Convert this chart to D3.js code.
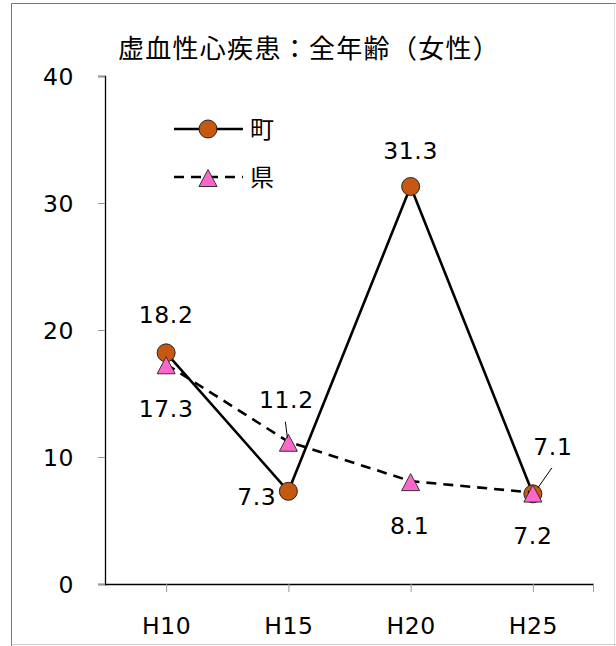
<!DOCTYPE html>
<html>
<head>
<meta charset="utf-8">
<script src="https://cdn.jsdelivr.net/npm/d3@7"></script>
<style>
  body { margin: 0; background: #fff; }
  svg { display: block; }
  text { font-family: 'DejaVu Sans', Verdana, sans-serif; fill: #000; }
  .cjk { font-family: 'Noto Sans CJK JP', 'Noto Sans', sans-serif; }
</style>
</head>
<body>
<div class="container"></div>
<script>
let width = 616
let height = 646
let margin = { left: 105, right: 22, top: 76, bottom: 62 }

const title = '虚血性心疾患：全年齢（女性）'
const categories = ['H10', 'H15', 'H20', 'H25']
const townValues = [18.2, 7.3, 31.3, 7.1]
const prefValues = [17.3, 11.2, 8.1, 7.2]
const yTicks = [0, 10, 20, 30, 40]
const seriesNames = ['町', '県']

// label offsets from the marker (dx, dy, anchor) - placement only
const townLabelPos = [[0, -38, 'middle'], [-12, 5, 'end'], [0, -36, 'middle'], [20, -47, 'middle']]
const prefLabelPos = [[0, 44, 'middle'], [-2, -42, 'middle'], [-1, 44, 'middle'], [0, 43, 'middle']]

let numFont = { size: '23.5px', spacing: '0.6px' }

let svg = d3.select('.container')
  .append('svg')
  .attr('width', width)
  .attr('height', height)

// frame
svg.append('line').attr('x1', 11.5).attr('x2', 616).attr('y1', 3.5).attr('y2', 3.5).attr('stroke', '#777')
svg.append('line').attr('x1', 11.5).attr('x2', 11.5).attr('y1', 3.5).attr('y2', 646).attr('stroke', '#777')
svg.append('line').attr('x1', 614.5).attr('x2', 614.5).attr('y1', 3.5).attr('y2', 646).attr('stroke', '#ddd')
svg.append('line').attr('x1', 11.5).attr('x2', 616).attr('y1', 644.5).attr('y2', 644.5).attr('stroke', '#ccc')

let x = d3.scalePoint()
  .domain(categories)
  .range([margin.left, width - margin.right])
  .padding(0.5)

let y = d3.scaleLinear()
  .domain([0, 40])
  .range([height - margin.bottom, margin.top])

// title
svg.append('text')
  .attr('class', 'cjk')
  .attr('x', 309)
  .attr('y', 58)
  .attr('text-anchor', 'middle')
  .style('font-size', '26px')
  .style('letter-spacing', '1.3px')
  .text(title)

function numStyle(sel) {
  sel.style('font-size', numFont.size)
    .style('letter-spacing', numFont.spacing)
    .style('font-family', "'DejaVu Sans', sans-serif")
    .attr('fill', '#000')
}

// y axis
let yAxis = svg.append('g')
  .attr('transform', `translate(${margin.left},0)`)
  .call(d3.axisLeft(y).tickValues(yTicks).tickSize(7).tickPadding(24))
yAxis.select('.domain').attr('stroke', '#000').attr('stroke-width', 1.3)
yAxis.selectAll('.tick line').attr('stroke', '#999')
yAxis.selectAll('.tick text').call(numStyle).attr('dy', '0.36em')

// x axis
let x0 = margin.left, x1 = width - margin.right
let xAxis = svg.append('g')
  .attr('transform', `translate(0,${height - margin.bottom})`)
  .call(d3.axisBottom(x).tickSizeOuter(0).tickSize(8).tickPadding(25))
xAxis.select('.domain').attr('d', `M${x0},0.5H${x1}`).attr('stroke', '#000').attr('stroke-width', 1.3)
xAxis.selectAll('.tick line').attr('stroke', '#999')
xAxis.selectAll('.tick text').call(numStyle)
xAxis.append('line').attr('x1', x1 - 0.5).attr('x2', x1 - 0.5).attr('y1', 0).attr('y2', 8).attr('stroke', '#999')

let line = d3.line()
  .x((d, i) => x(categories[i]))
  .y(d => y(d))

let triangle = 'M0,-8.5L9,8.5L-9,8.5Z'

// town series
svg.append('path')
  .datum(townValues)
  .attr('d', line)
  .attr('fill', 'none')
  .attr('stroke', '#000')
  .attr('stroke-width', 2.6)

svg.append('g')
  .selectAll('circle')
  .data(townValues)
  .enter()
  .append('circle')
  .attr('cx', (d, i) => x(categories[i]))
  .attr('cy', d => y(d))
  .attr('r', 9)
  .attr('fill', '#C65911')
  .attr('stroke', '#222')
  .attr('stroke-width', 1)

// prefecture series
svg.append('path')
  .datum(prefValues)
  .attr('d', line)
  .attr('fill', 'none')
  .attr('stroke', '#000')
  .attr('stroke-width', 2.6)
  .attr('stroke-dasharray', '10,7')

svg.append('g')
  .selectAll('path')
  .data(prefValues)
  .enter()
  .append('path')
  .attr('d', triangle)
  .attr('transform', (d, i) => `translate(${x(categories[i])},${y(d) + 1})`)
  .attr('fill', '#FF66CC')
  .attr('stroke', '#333')
  .attr('stroke-width', 1)

// data labels
function labels(values, pos) {
  svg.append('g')
    .selectAll('text')
    .data(values)
    .enter()
    .append('text')
    .attr('x', (d, i) => x(categories[i]) + pos[i][0])
    .attr('y', (d, i) => y(d) + pos[i][1])
    .attr('dy', '0.36em')
    .attr('text-anchor', (d, i) => pos[i][2])
    .call(numStyle)
    .text(d => d.toFixed(1))
}
labels(townValues, townLabelPos)
labels(prefValues, prefLabelPos)

// leader lines
svg.append('line')
  .attr('x1', x('H15') - 3).attr('y1', y(prefValues[1]) - 20)
  .attr('x2', x('H15') - 1).attr('y2', y(prefValues[1]) - 4)
  .attr('stroke', '#000').attr('stroke-width', 1)
svg.append('line')
  .attr('x1', x('H25') + 19).attr('y1', y(townValues[3]) - 26)
  .attr('x2', x('H25') + 5).attr('y2', y(townValues[3]) - 6)
  .attr('stroke', '#000').attr('stroke-width', 1)

// legend
let legend = svg.append('g')
legend.append('line').attr('x1', 174).attr('x2', 243).attr('y1', 129).attr('y2', 129)
  .attr('stroke', '#000').attr('stroke-width', 2.6)
legend.append('circle').attr('cx', 208).attr('cy', 129).attr('r', 9)
  .attr('fill', '#C65911').attr('stroke', '#222')
legend.append('line').attr('x1', 174).attr('x2', 243).attr('y1', 177).attr('y2', 177)
  .attr('stroke', '#000').attr('stroke-width', 2.6).attr('stroke-dasharray', '10,7')
legend.append('path').attr('d', triangle).attr('transform', 'translate(208,178)')
  .attr('fill', '#FF66CC').attr('stroke', '#333')
legend.selectAll('text')
  .data(seriesNames)
  .enter()
  .append('text')
  .attr('class', 'cjk')
  .attr('x', 250)
  .attr('y', (d, i) => 129 + i * 48)
  .attr('dy', '0.36em')
  .style('font-size', '24px')
  .text(d => d)
</script>
</body>
</html>
